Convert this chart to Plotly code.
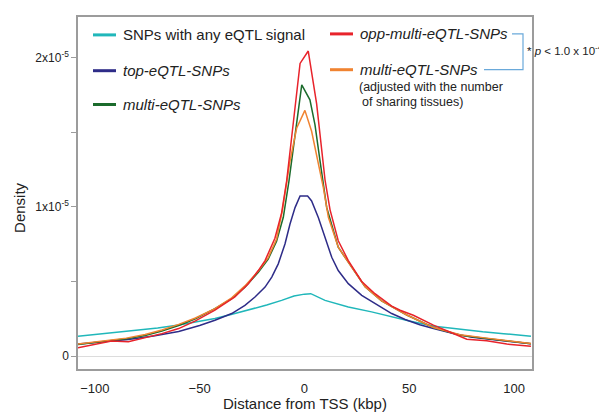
import plotly.graph_objects as go

SCALE = 1e-5  # density values below are in units of 1e-5

# SNPs with any eQTL signal
any_x = [-108, -100, -90, -80, -70, -60, -50, -42.7, -35, -26.8, -18, -10.9, -5, 0, 3, 9.8, 20.9, 32, 43, 50, 62, 75, 85, 95, 108]
any_y = [0.133, 0.145, 0.158, 0.170, 0.188, 0.208, 0.232, 0.251, 0.278, 0.307, 0.342, 0.373, 0.402, 0.415, 0.418, 0.373, 0.329, 0.296, 0.258, 0.235, 0.200, 0.178, 0.162, 0.150, 0.133]

# top-eQTL-SNPs
top_x = [-108, -95, -84, -72, -60, -50, -42.7, -34.7, -28.4, -23.6, -18.8, -15.6, -12.5, -9.3, -6.9, -4.5, -2.1, 1.5, 3.4, 6.6, 9.8, 13, 16.1, 20.9, 27.3, 33.6, 41.6, 48, 55, 61.5, 71, 80, 90, 100, 108]
top_y = [0.080, 0.095, 0.111, 0.135, 0.165, 0.205, 0.240, 0.285, 0.340, 0.396, 0.462, 0.529, 0.618, 0.751, 0.885, 0.995, 1.073, 1.073, 1.040, 0.929, 0.795, 0.662, 0.573, 0.485, 0.407, 0.351, 0.285, 0.245, 0.210, 0.184, 0.151, 0.125, 0.110, 0.095, 0.082]

# multi-eQTL-SNPs
multi_x = [-108, -95, -85, -76, -68, -60, -52, -42.7, -34.7, -28.4, -22, -17.3, -13.3, -10.1, -7.4, -5.3, -1.3, 2.6, 5, 7.5, 10.6, 16.1, 22.5, 28.9, 36.8, 42.4, 48.8, 61.5, 74.2, 86.9, 97, 108]
multi_y = [0.078, 0.100, 0.115, 0.138, 0.168, 0.205, 0.250, 0.318, 0.385, 0.462, 0.562, 0.650, 0.770, 0.930, 1.173, 1.395, 1.818, 1.718, 1.551, 1.300, 0.996, 0.729, 0.596, 0.465, 0.370, 0.325, 0.275, 0.191, 0.140, 0.118, 0.100, 0.082]

# opp-multi-eQTL-SNPs
opp_x = [-108, -100, -92, -84, -76, -68, -60, -52, -42.7, -33.2, -26.8, -22, -18.8, -14.1, -10.9, -8.5, -6, -2.1, 1.8, 5.8, 9.8, 12.2, 16.1, 20.9, 27.3, 33.6, 41.6, 45.6, 51.9, 61.5, 71, 77.4, 86.9, 96.5, 108]
opp_y = [0.055, 0.080, 0.100, 0.096, 0.122, 0.150, 0.184, 0.236, 0.307, 0.396, 0.485, 0.573, 0.640, 0.790, 0.960, 1.173, 1.480, 1.962, 2.045, 1.690, 1.180, 0.980, 0.773, 0.640, 0.500, 0.418, 0.335, 0.307, 0.273, 0.207, 0.151, 0.113, 0.102, 0.080, 0.065]

# multi-eQTL-SNPs adjusted with number of sharing tissues
adj_x = [-108, -95, -85, -76, -68, -60, -52, -42.7, -34.7, -28.4, -22, -17.3, -13.3, -10.5, -7, -3.7, 0.2, 3.4, 9, 11.4, 16.1, 22.5, 28.9, 36.8, 42.4, 48.8, 61.5, 74.2, 86.9, 97, 108]
adj_y = [0.080, 0.103, 0.120, 0.145, 0.175, 0.212, 0.255, 0.318, 0.390, 0.470, 0.570, 0.660, 0.785, 0.980, 1.300, 1.529, 1.647, 1.507, 1.129, 0.930, 0.729, 0.596, 0.465, 0.370, 0.325, 0.275, 0.191, 0.142, 0.120, 0.102, 0.084]

series = [
    ("SNPs with any eQTL signal", any_x, any_y, "#20B7BA"),
    ("top-eQTL-SNPs", top_x, top_y, "#2E2C88"),
    ("multi-eQTL-SNPs", multi_x, multi_y, "#1B6B2C"),
    ("multi-eQTL-SNPs (adjusted)", adj_x, adj_y, "#F08331"),
    ("opp-multi-eQTL-SNPs", opp_x, opp_y, "#E8232B"),
]

x_ticks = [-100, -50, 0, 50, 100]
y_ticks = [0, 0.5, 1.0, 1.5, 2.0]
y_ticktext = ["0", "", "1x10<sup>-5</sup>", "", "2x10<sup>-5</sup>"]

FONT = "Liberation Sans, Arial, sans-serif"

fig = go.Figure()
for name, xs, ys, col in series:
    fig.add_trace(go.Scatter(x=xs, y=[v * SCALE for v in ys], mode="lines", name=name,
                             line=dict(color=col, width=1.5), showlegend=False))

OFF = 8  # page body margin
W, H = 607 - OFF, 413 - OFF
# plot frame in page pixel coordinates
PL, PR, PT, PB = 78, 532, 15, 369
L, R, T, B = PL - OFF, PR - OFF, PT - OFF, PB - OFF

def px(xp):
    return (xp - PL) / (PR - PL)

def py(yp):
    return (PB - yp) / (PB - PT)

shapes = []
annotations = []

def legend_item(x0, x1, y, col, text, italic=True, size=15):
    shapes.append(dict(type="line", xref="paper", yref="paper", x0=px(x0), x1=px(x1), y0=py(y), y1=py(y),
                       line=dict(color=col, width=3)))
    t = f"<i>{text}</i>" if italic else text
    annotations.append(dict(xref="paper", yref="paper", x=px(x1 + 5), y=py(y), text=t, showarrow=False,
                            xanchor="left", yanchor="middle", font=dict(size=size, color="#222", family=FONT)))

legend_item(93, 116, 33, series[0][3], "SNPs with any eQTL signal", italic=False)
legend_item(93, 116, 69, series[1][3], "top-eQTL-SNPs")
legend_item(93, 116, 103, series[2][3], "multi-eQTL-SNPs")
legend_item(330, 353, 32, series[4][3], "opp-multi-eQTL-SNPs")
legend_item(330, 353, 68, series[3][3], "multi-eQTL-SNPs")
annotations.append(dict(xref="paper", yref="paper", x=px(357), y=py(85), text="(adjusted with the number",
                        showarrow=False, xanchor="left", yanchor="middle", font=dict(size=12.5, color="#222", family=FONT)))
annotations.append(dict(xref="paper", yref="paper", x=px(360), y=py(100), text="of sharing tissues)",
                        showarrow=False, xanchor="left", yanchor="middle", font=dict(size=12.5, color="#222", family=FONT)))

# significance bracket
shapes.append(dict(type="path", xref="paper", yref="paper",
                   path=f"M {px(512)} {py(32)} L {px(523)} {py(32)} L {px(523)} {py(68)} L {px(484)} {py(68)}",
                   line=dict(color="#6AA9DA", width=1.2)))
annotations.append(dict(xref="paper", yref="paper", x=px(525), y=py(48),
                        text="* <i>p</i> < 1.0 x 10<sup>-4</sup>", showarrow=False, xanchor="left", yanchor="middle",
                        font=dict(size=11.5, color="#222", family=FONT)))

# axis titles
annotations.append(dict(xref="paper", yref="paper", x=px(20), y=py(207), text="Density", textangle=-90,
                        showarrow=False, xanchor="center", yanchor="middle", font=dict(size=15, color="#222", family=FONT)))
annotations.append(dict(xref="paper", yref="paper", x=px(305), y=py(404), text="Distance from TSS (kbp)",
                        showarrow=False, xanchor="center", yanchor="middle", font=dict(size=15, color="#222", family=FONT)))

fig.update_layout(
    width=W, height=H,
    margin=dict(l=L, r=W - R, t=T, b=H - B, pad=0),
    paper_bgcolor="white", plot_bgcolor="white",
    font=dict(family=FONT, size=12, color="#222"),
    shapes=shapes, annotations=annotations,
    xaxis=dict(range=[-108, 108.5], tickvals=x_ticks, ticks="outside", ticklen=7, tickcolor="rgba(0,0,0,0)",
               showgrid=False, zeroline=False, showline=True, mirror=True, linecolor="#9c9c9c", linewidth=1.5,
               tickfont=dict(size=13, color="#222")),
    yaxis=dict(range=[-0.087 * SCALE, 2.273 * SCALE], tickvals=[v * SCALE for v in y_ticks], ticktext=y_ticktext,
               ticks="outside", ticklen=5, tickcolor="#9c9c9c", tickwidth=1,
               showgrid=False, zeroline=True, zerolinecolor="#dcdcdc", zerolinewidth=1,
               showline=True, mirror=True, linecolor="#9c9c9c", linewidth=1.5,
               tickfont=dict(size=12, color="#222")),
)

fig.write_html("out.html")
